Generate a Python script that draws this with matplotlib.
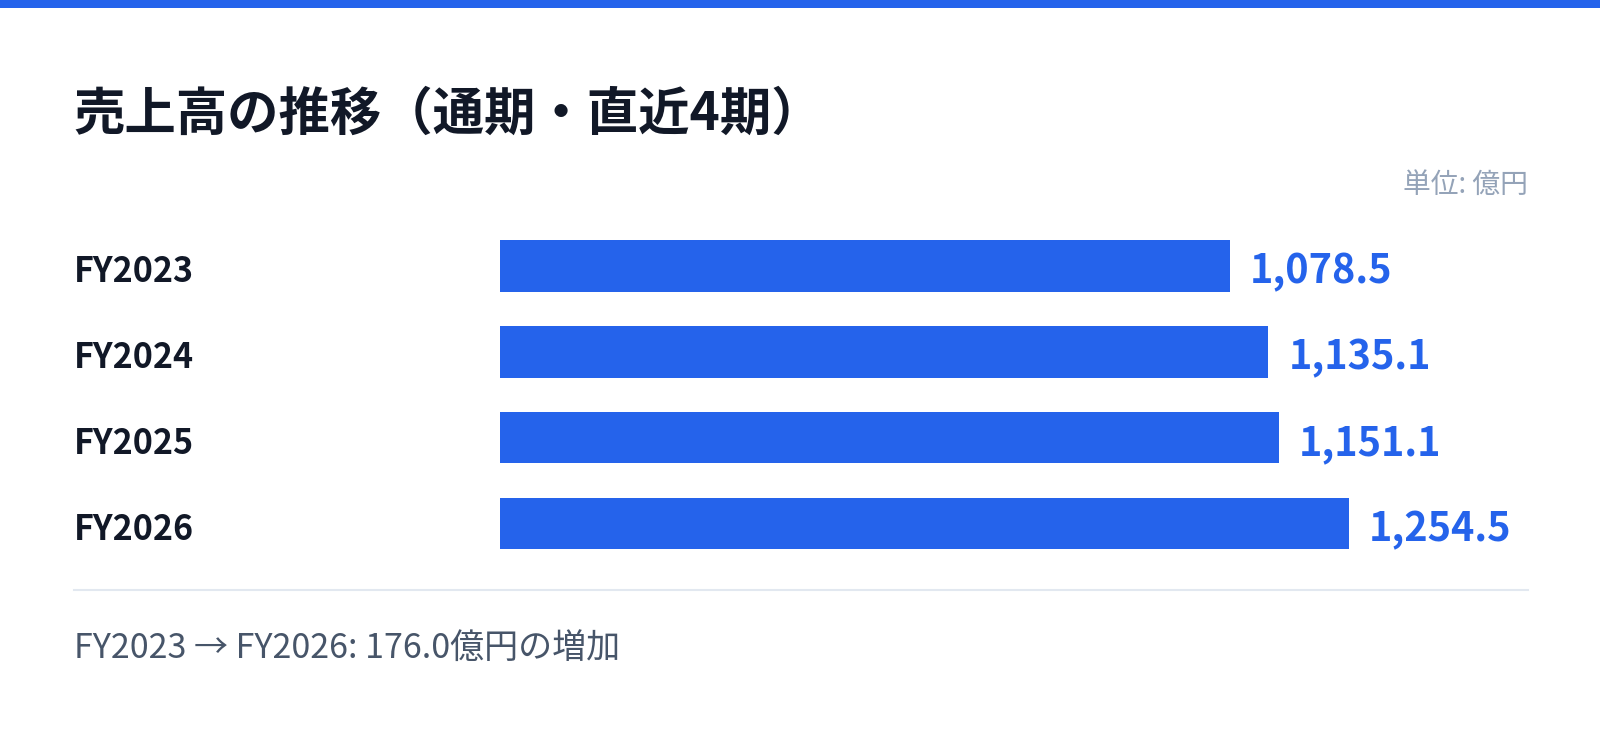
import matplotlib.pyplot as plt
import matplotlib.transforms as mtransforms

plt.rcParams['font.family'] = ['Noto Sans CJK JP', 'DejaVu Sans']

# data
periods = ['FY2023', 'FY2024', 'FY2025', 'FY2026']
sales = [1078.5, 1135.1, 1151.1, 1254.5]
title = '売上高の推移（通期・直近4期）'
unit = '単位: 億円'
footer = 'FY2023 → FY2026: 176.0億円の増加'

blue = '#2563EB'
W, H = 1600, 733
left, right = 73.5, 1527.5

fig = plt.figure(figsize=(W / 100, H / 100), dpi=100)
fig.patch.set_facecolor('white')

# top accent strip
fig.patches.append(plt.Rectangle((0, 1 - 8 / H), 1, 8 / H, transform=fig.transFigure,
                                 facecolor=blue, edgecolor='none'))

fig.text(left / W, 1 - 114 / H, title, fontsize=37, fontweight='bold', color='#111827',
         va='center', ha='left')
fig.text(right / W, 1 - 185 / H, unit, fontsize=20, color='#94A3B8', va='center', ha='right')

ax = fig.add_axes([500 / W, 1 - 566.5 / H, (right - 500) / W, (566.5 - 223) / H])
ypos = list(range(len(periods)))
ax.barh(ypos, sales, height=0.6, color=blue)
ax.set_xlim(0, max(sales) * 1.21)
ax.set_ylim(len(periods) - 0.5, -0.5)
ax.axis('off')

for y, v in zip(ypos, sales):
    ax.annotate(f'{v:,.1f}', (v, y), xytext=(20, -6), textcoords='offset pixels',
                fontsize=28.5, fontweight='bold', color=blue, va='center', ha='left')

trans = mtransforms.blended_transform_factory(fig.transFigure, ax.transData)
for y, p in zip(ypos, periods):
    ax.annotate(p, (left / W, y), xycoords=trans, xytext=(0, -6), textcoords='offset pixels',
                fontsize=24.5, fontweight='bold', color='#111827', va='center', ha='left')

# separator
fig.add_artist(plt.Line2D([left / W, right / W], [1 - 590 / H, 1 - 590 / H],
                          transform=fig.transFigure, color='#E2E8F0', lw=1.5))

fig.text(left / W, 1 - 648 / H, footer, fontsize=24.5, color='#475569', va='center', ha='left')

fig.savefig('out.png', dpi=100)
